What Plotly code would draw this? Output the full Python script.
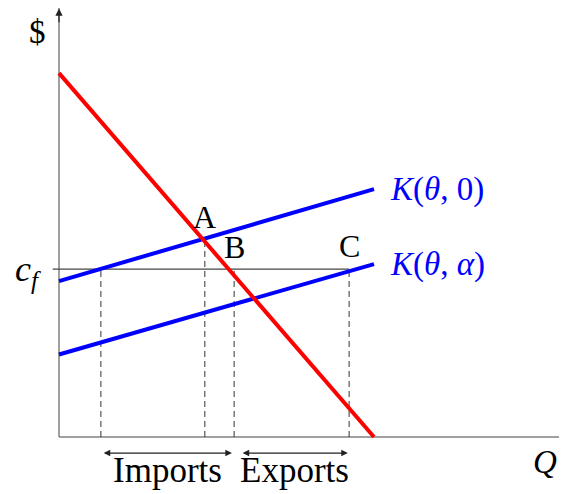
import plotly.graph_objects as go

# Q / $ units (origin at the axes corner)
demand_q = [0, 10]
demand_p = [11.55, 0]

k0_q = [0, 10]
k0_p = [4.95, 7.87]

ka_q = [0, 10]
ka_p = [2.62, 5.49]

c_f = 5.33
c_f_end = 9.21

# dashed drop lines: Q position and height
drop_q = [1.33, 4.63, 5.56, 9.21]
drop_top = [c_f, 6.30, c_f, c_f]

# point labels
point_names = ["A", "B", "C"]
point_q = [4.63, 5.56, 9.21]
point_p = [6.98, 6.03, 6.06]

# trade arrows (start, end) and their labels
trade_names = ["Imports", "Exports"]
trade_start = [1.37, 5.78]
trade_end = [5.49, 9.17]
trade_arrow_p = -0.51
trade_label_p = -1.05

# the page puts the figure 8px in from the top-left corner
x_range = [-1.619, 16.127]
y_range = [-1.81, 13.619]
y_axis_top = 13.62

FONT = "Liberation Serif"
AXIS_GRAY = "#808080"

fig = go.Figure()

# axes
fig.add_trace(go.Scatter(x=[0, 0], y=[0, y_axis_top], mode="lines",
                         line=dict(color=AXIS_GRAY, width=1.5), hoverinfo="skip"))
fig.add_trace(go.Scatter(x=[0, x_range[1]], y=[0, 0], mode="lines",
                         line=dict(color=AXIS_GRAY, width=1.5), hoverinfo="skip"))
fig.add_annotation(x=0, y=y_axis_top - 0.02, ax=0, ay=y_axis_top - 0.5, xref="x", yref="y",
                   axref="x", ayref="y", text="", showarrow=True, arrowhead=2,
                   arrowsize=1.2, arrowwidth=1.2, arrowcolor="#222")

# dashed drop lines
for q, top in zip(drop_q, drop_top):
    fig.add_trace(go.Scatter(x=[q, q], y=[0, top], mode="lines",
                             line=dict(color="#333", width=1, dash="6px,4px"),
                             hoverinfo="skip"))

# c_f line with tick
fig.add_trace(go.Scatter(x=[-0.2, c_f_end], y=[c_f, c_f], mode="lines",
                         line=dict(color="#444", width=1.2), hoverinfo="skip"))

# curves
fig.add_trace(go.Scatter(x=k0_q, y=k0_p, mode="lines",
                         line=dict(color="#0000FF", width=4), hoverinfo="skip"))
fig.add_trace(go.Scatter(x=ka_q, y=ka_p, mode="lines",
                         line=dict(color="#0000FF", width=4), hoverinfo="skip"))
fig.add_trace(go.Scatter(x=demand_q, y=demand_p, mode="lines",
                         line=dict(color="#FF0000", width=4), hoverinfo="skip"))

# trade arrows
for name, s, e in zip(trade_names, trade_start, trade_end):
    fig.add_annotation(x=e, y=trade_arrow_p, ax=s, ay=trade_arrow_p, xref="x", yref="y",
                       axref="x", ayref="y", text="", showarrow=True, arrowhead=2,
                       arrowside="end+start", arrowsize=1.1, arrowwidth=1.2,
                       arrowcolor="#222")
    fig.add_annotation(x=(s + e) / 2, y=trade_label_p, text=name, showarrow=False,
                       font=dict(family=FONT, size=35, color="black"))

# point labels
for name, q, p in zip(point_names, point_q, point_p):
    fig.add_annotation(x=q, y=p, text=name, showarrow=False,
                       font=dict(family=FONT, size=32, color="black"))

# curve labels
fig.add_annotation(x=10.44, y=k0_p[1], text="<i>K</i>(<i>θ</i>, 0)", showarrow=False,
                   xanchor="left", font=dict(family=FONT, size=33, color="#0000FF"))
fig.add_annotation(x=10.44, y=ka_p[1], text="<i>K</i>(<i>θ</i>, <i>α</i>)", showarrow=False,
                   xanchor="left", font=dict(family=FONT, size=33, color="#0000FF"))

# axis labels
fig.add_annotation(x=-0.667, y=12.86, text="$", showarrow=False,
                   font=dict(family=FONT, size=33, color="black"))
fig.add_annotation(x=15.55, y=-0.79, text="<i>Q</i> ", showarrow=False,
                   font=dict(family=FONT, size=33, color="black"))
fig.add_annotation(x=-1.0, y=5.25, text="<i>c</i><sub><i>f</i></sub>", showarrow=False,
                   font=dict(family=FONT, size=36, color="black"))

fig.update_xaxes(range=x_range, visible=False, fixedrange=True)
fig.update_yaxes(range=y_range, visible=False, fixedrange=True)
fig.update_layout(
    width=559,
    height=486,
    margin=dict(l=0, r=0, t=0, b=0),
    showlegend=False,
    plot_bgcolor="white",
    paper_bgcolor="white",
)

fig.write_html("out.html")
